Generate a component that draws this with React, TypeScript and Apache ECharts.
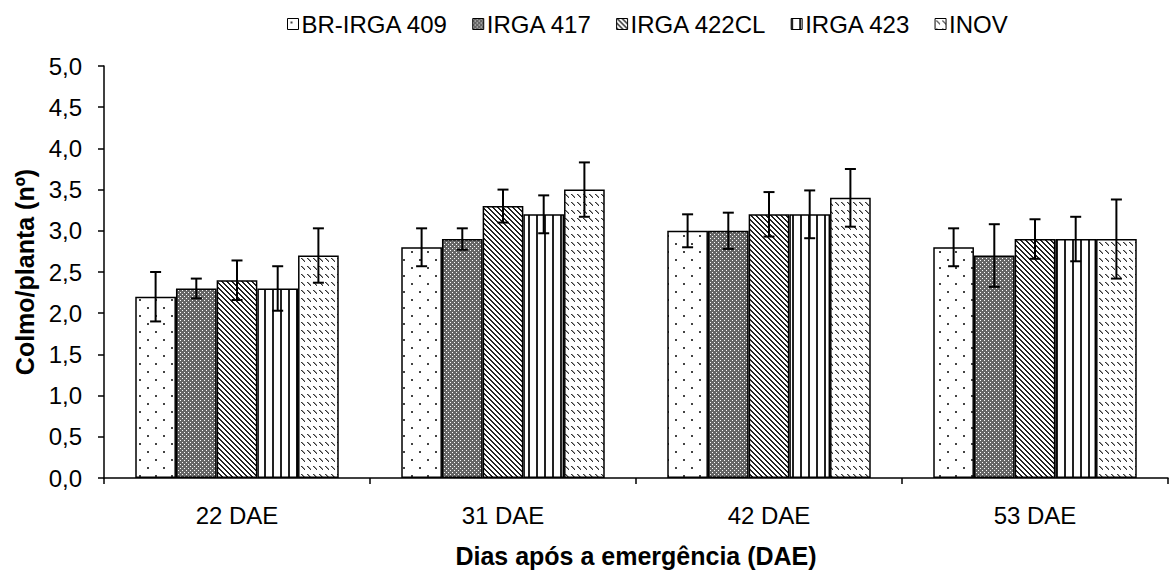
import React, { useEffect, useRef } from 'react';
import * as echarts from 'echarts';

const categories = ['22 DAE', '31 DAE', '42 DAE', '53 DAE'];
const varieties = ['BR-IRGA 409', 'IRGA 417', 'IRGA 422CL', 'IRGA 423', 'INOV'];

const brIrga409 = [2.2, 2.8, 3.0, 2.8];
const irga417 = [2.3, 2.9, 3.0, 2.7];
const irga422cl = [2.4, 3.3, 3.2, 2.9];
const irga423 = [2.3, 3.2, 3.2, 2.9];
const inov = [2.7, 3.5, 3.4, 2.9];

const errBrIrga409 = [0.3, 0.23, 0.2, 0.23];
const errIrga417 = [0.12, 0.13, 0.22, 0.38];
const errIrga422cl = [0.24, 0.2, 0.27, 0.24];
const errIrga423 = [0.27, 0.23, 0.29, 0.27];
const errInov = [0.33, 0.33, 0.35, 0.48];

const yMin = 0;
const yMax = 5;
const yInterval = 0.5;

const seriesValues = [brIrga409, irga417, irga422cl, irga423, inov];
const seriesErrors = [errBrIrga409, errIrga417, errIrga422cl, errIrga423, errInov];

const CATEGORY_GAP = 0.235;
const FONT = '"Liberation Sans", Arial, sans-serif';

function makeTile(w: number, h: number, draw: (ctx: CanvasRenderingContext2D) => void) {
  const c = document.createElement('canvas');
  c.width = w;
  c.height = h;
  const ctx = c.getContext('2d') as CanvasRenderingContext2D;
  ctx.fillStyle = '#ffffff';
  ctx.fillRect(0, 0, w, h);
  draw(ctx);
  return { image: c, repeat: 'repeat', imageWidth: w, imageHeight: h } as any;
}

function makePatterns() {
  const dots = makeTile(16, 16, (ctx) => {
    ctx.fillStyle = '#444';
    ctx.fillRect(3, 3, 2, 2);
    ctx.fillRect(11, 11, 2, 2);
  });
  const checker = makeTile(4, 4, (ctx) => {
    ctx.fillStyle = '#666';
    ctx.fillRect(0, 0, 4, 4);
    ctx.fillStyle = '#fff';
    ctx.fillRect(0, 0, 1, 1);
    ctx.fillRect(2, 2, 1, 1);
  });
  const diag = makeTile(5, 5, (ctx) => {
    ctx.fillStyle = '#222';
    for (let y = 0; y < 5; y++) {
      for (let x = 0; x < 5; x++) {
        const m = (((x - y) % 5) + 5) % 5;
        if (m === 0 || m === 1) ctx.fillRect(x, y, 1, 1);
      }
    }
  });
  const vert = makeTile(8, 4, (ctx) => {
    ctx.fillStyle = '#222';
    ctx.fillRect(0, 0, 2, 4);
  });
  const dashes = makeTile(6, 8, (ctx) => {
    ctx.fillStyle = '#333';
    for (let k = 0; k < 4; k++) ctx.fillRect(1 + k, 2 + k, 1, 1);
    ctx.fillStyle = '#999';
    for (let k = 0; k < 3; k++) ctx.fillRect(2 + k, 2 + k, 1, 1);
  });
  return [dots, checker, diag, vert, dashes];
}

export default function App() {
  const ref = useRef<HTMLDivElement>(null);

  useEffect(() => {
    document.body.style.margin = '0';
    if (!ref.current) return;
    const chart = echarts.init(ref.current, null, { renderer: 'svg' });
    const patterns = makePatterns();

    const barSeries = varieties.map((name, i) => ({
      type: 'bar',
      name,
      data: seriesValues[i],
      barGap: '0%',
      barCategoryGap: CATEGORY_GAP * 100 + '%',
      itemStyle: { color: patterns[i], borderColor: '#000', borderWidth: 1.5 },
      emphasis: { disabled: true },
    }));

    const errSeries = varieties.map((name, i) => ({
      type: 'custom',
      name: 'err-' + name,
      z: 10,
      silent: true,
      data: seriesValues[i].map((v, j) => [j, v, seriesErrors[i][j]]),
      renderItem: (params: any, api: any) => {
        const xi = api.value(0);
        const v = api.value(1);
        const e = api.value(2);
        const c = api.coord([xi, v]);
        const bandW = api.size([1, 0])[0];
        const barW = (bandW * (1 - CATEGORY_GAP)) / varieties.length;
        const x = c[0] + (i - (varieties.length - 1) / 2) * barW;
        const top = api.coord([xi, v + e])[1];
        const bot = api.coord([xi, v - e])[1];
        const hw = 5.5;
        const st = { stroke: '#000', lineWidth: 2 };
        return {
          type: 'group',
          children: [
            { type: 'line', shape: { x1: x, y1: top, x2: x, y2: bot }, style: st },
            { type: 'line', shape: { x1: x - hw, y1: top, x2: x + hw, y2: top }, style: st },
            { type: 'line', shape: { x1: x - hw, y1: bot, x2: x + hw, y2: bot }, style: st },
          ],
        };
      },
    }));

    chart.setOption({
      animation: false,
      backgroundColor: '#ffffff',
      textStyle: { fontFamily: FONT, color: '#000' },
      legend: {
        data: varieties.map((n) => ({ name: n, icon: 'rect' })),
        left: 282,
        top: 7,
        itemWidth: 11,
        itemHeight: 11,
        itemGap: 24,
        itemStyle: { borderColor: '#000', borderWidth: 1 },
        textStyle: { fontFamily: FONT, fontSize: 24, color: '#000', padding: [0, 0, 0, -2] },
        selectedMode: false,
      },
      grid: { left: 104, right: 1, top: 66, bottom: 90, containLabel: false },
      xAxis: {
        type: 'category',
        data: categories,
        name: 'Dias após a emergência (DAE)',
        nameLocation: 'middle',
        nameGap: 65,
        nameTextStyle: { fontFamily: FONT, fontSize: 25, fontWeight: 'bold', color: '#000' },
        axisLine: { lineStyle: { color: '#000', width: 1.5 } },
        axisTick: { show: true, alignWithLabel: false, length: 6, lineStyle: { color: '#000', width: 1.5 } },
        axisLabel: { fontFamily: FONT, fontSize: 24, color: '#000', margin: 25 },
      },
      yAxis: {
        type: 'value',
        min: yMin,
        max: yMax,
        interval: yInterval,
        name: 'Colmo/planta (nº)',
        nameLocation: 'middle',
        nameGap: 66,
        nameTextStyle: { fontFamily: FONT, fontSize: 25, fontWeight: 'bold', color: '#000' },
        splitLine: { show: false },
        axisLine: { show: true, lineStyle: { color: '#000', width: 1.5 } },
        axisTick: { show: true, length: 6, lineStyle: { color: '#000', width: 1.5 } },
        axisLabel: {
          fontFamily: FONT,
          fontSize: 24,
          color: '#000',
          margin: 22,
          formatter: (v: number) => v.toFixed(1).replace('.', ','),
        },
      },
      series: [...barSeries, ...errSeries],
    } as any);

    return () => chart.dispose();
  }, []);

  return <div ref={ref} style={{ width: 1169, height: 573, background: '#fff' }} />;
}
